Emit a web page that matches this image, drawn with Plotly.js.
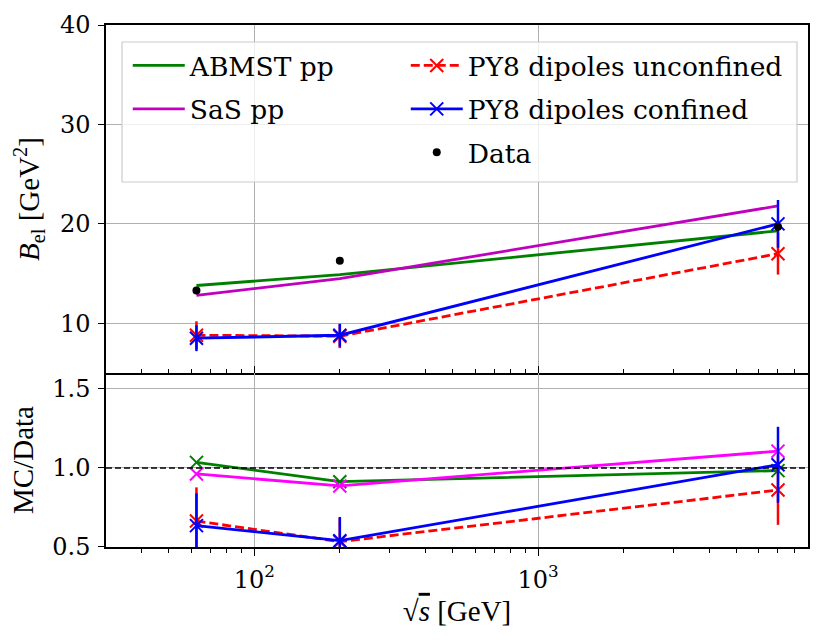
<!DOCTYPE html>
<html>
<head>
<meta charset="utf-8">
<script src="https://cdn.plot.ly/plotly-3.0.1.min.js"></script>
<style>
  html, body { margin: 0; padding: 0; background: #fff; }
  #chart { width: 830px; height: 644px; }
</style>
</head>
<body>
<div id="chart"></div>
<script>
  // Elastic slope B_el vs sqrt(s), with MC/Data ratio below.
  // Values.

  const sqrtS = [62.5, 200, 7000];

  const dataB = [13.3, 16.3, 19.7];
  const dataErr = [0.3, 0.3, 0.3];

  const abmstB = [13.8, 14.9, 19.3];
  const sasB = [12.8, 14.5, 21.8];

  const unconfB = [8.8, 8.7, 17.0];
  const unconfErr = [1.4, 1.2, 2.1];
  const confB = [8.5, 8.8, 20.0];
  const confErr = [1.3, 1.15, 2.4];

  const ratioAbmst = [1.035, 0.913, 0.983];
  const ratioSas = [0.962, 0.886, 1.106];
  const ratioUnconf = [0.664, 0.534, 0.86];
  const ratioUnconfErr = [0.213, 0.15, 0.22];
  const ratioConf = [0.635, 0.54, 1.02];
  const ratioConfErr = [0.205, 0.15, 0.24];

  const xMajor = [100, 1000];
  const xMajorText = ["10<sup>2</sup>", "10<sup>3</sup>"];
  const xMinor = [40, 50, 60, 70, 80, 90, 200, 300, 400, 500, 600, 700, 800, 900,
                  2000, 3000, 4000, 5000, 6000, 7000, 8000, 9000];
  const yTopTicks = [10, 20, 30, 40];
  const yRatioTicks = [0.5, 1.0, 1.5];
  const yRatioText = ["0.5", "1.0", "1.5"];

  // Titles take Liberation Serif; tick labels and legend entries only came
  // out serif with DejaVu Serif in this renderer.
  const TITLE_FONT = "Liberation Serif";
  const TEXT_FONT = "DejaVu Serif";
  const GREEN = "#008000";
  const PURPLE = "#bf00bf";
  const MAGENTA = "#ff00ff";
  const RED = "#ff0000";
  const BLUE = "#0000ff";
  const GRID = "#b0b0b0";
  const LW = 2.8;
  const DASH = "9px,4px";

  function xMarker(color) {
    return { symbol: "x-thin", size: 13, color: color, line: { color: color, width: 2 } };
  }

  function errBar(values, color) {
    return { type: "data", array: values, visible: true, color: color, thickness: 2.5, width: 0 };
  }

  function tickFont() {
    return { family: TEXT_FONT, size: 24, color: "black" };
  }

  function titleFont() {
    return { family: TITLE_FONT, size: 29, color: "black" };
  }

  const traces = [
    // --- top panel ---
    {
      x: sqrtS, y: abmstB, name: "ABMST pp", legend: "legend", legendgroup: "g1",
      type: "scatter", mode: "lines", line: { color: GREEN, width: LW },
      xaxis: "x", yaxis: "y",
    },
    {
      x: sqrtS, y: sasB, name: "SaS pp", legend: "legend", legendgroup: "g2",
      type: "scatter", mode: "lines", line: { color: PURPLE, width: LW },
      xaxis: "x", yaxis: "y",
    },
    {
      x: sqrtS, y: unconfB, name: "PY8 dipoles unconfined", legend: "legend2", legendgroup: "g3",
      type: "scatter", mode: "lines+markers",
      line: { color: RED, width: LW, dash: DASH }, marker: xMarker(RED),
      error_y: errBar(unconfErr, RED),
      xaxis: "x", yaxis: "y",
    },
    {
      x: sqrtS, y: confB, name: "PY8 dipoles confined", legend: "legend2", legendgroup: "g4",
      type: "scatter", mode: "lines+markers",
      line: { color: BLUE, width: LW }, marker: xMarker(BLUE),
      error_y: errBar(confErr, BLUE),
      xaxis: "x", yaxis: "y",
    },
    {
      x: sqrtS, y: dataB, name: "Data", legend: "legend2", legendgroup: "g5",
      type: "scatter", mode: "markers",
      marker: { color: "black", size: 8 },
      error_y: errBar(dataErr, "black"),
      xaxis: "x", yaxis: "y",
    },
    // --- ratio panel ---
    {
      x: sqrtS, y: ratioAbmst, showlegend: false,
      type: "scatter", mode: "lines+markers",
      line: { color: GREEN, width: LW }, marker: xMarker(GREEN),
      xaxis: "x2", yaxis: "y2",
    },
    {
      x: sqrtS, y: ratioSas, showlegend: false,
      type: "scatter", mode: "lines+markers",
      line: { color: MAGENTA, width: LW }, marker: xMarker(MAGENTA),
      xaxis: "x2", yaxis: "y2",
    },
    {
      x: sqrtS, y: ratioUnconf, showlegend: false,
      type: "scatter", mode: "lines+markers",
      line: { color: RED, width: LW, dash: DASH }, marker: xMarker(RED),
      error_y: errBar(ratioUnconfErr, RED),
      xaxis: "x2", yaxis: "y2",
    },
    {
      x: sqrtS, y: ratioConf, showlegend: false,
      type: "scatter", mode: "lines+markers",
      line: { color: BLUE, width: LW }, marker: xMarker(BLUE),
      error_y: errBar(ratioConfErr, BLUE),
      xaxis: "x2", yaxis: "y2",
    },
  ];

  const X_RANGE = [Math.log10(30), Math.log10(8930)];

  const LEGEND_BASE = {
    orientation: "v", traceorder: "grouped", tracegroupgap: 6, itemwidth: 52,
    y: 0.968, yanchor: "top", xanchor: "left",
    bgcolor: "rgba(0,0,0,0)", borderwidth: 0,
    font: { family: TEXT_FONT, size: 26.5, color: "black" },
  };

  const layout = {
    width: 830, height: 644,
    margin: { l: 106, r: 22, t: 25, b: 97 },
    paper_bgcolor: "white", plot_bgcolor: "white",
    font: { family: TEXT_FONT, size: 24, color: "black" },
    showlegend: true,
    legend: Object.assign({}, LEGEND_BASE, { x: 0.031 }),
    legend2: Object.assign({}, LEGEND_BASE, { x: 0.427 }),
    xaxis: {
      type: "log", range: X_RANGE, domain: [0, 1], anchor: "y", matches: "x2",
      showline: true, linecolor: "black", linewidth: 1.5, mirror: true,
      gridcolor: GRID, zeroline: false,
      tickmode: "array", tickvals: xMajor, ticktext: xMajorText,
      showticklabels: false, ticks: "inside", ticklen: 7, tickcolor: "black", tickwidth: 1.2,
      minor: { tickmode: "array", tickvals: xMinor, ticks: "inside", ticklen: 4, tickcolor: "black", showgrid: false },
    },
    yaxis: {
      domain: [0.3333, 1], range: [5, 40], anchor: "x",
      showline: true, linecolor: "black", linewidth: 1.5, mirror: true,
      gridcolor: GRID, zeroline: false,
      tickmode: "array", tickvals: yTopTicks,
      ticks: "outside", ticklen: 6, tickcolor: "black", tickwidth: 1.2, ticklabelstandoff: 3,
      tickfont: tickFont(),
      title: {
        text: "<i>B</i><sub>el</sub> [GeV<sup>2</sup>]",
        font: titleFont(), standoff: 12,
      },
    },
    xaxis2: {
      type: "log", range: X_RANGE, domain: [0, 1], anchor: "y2",
      showline: true, linecolor: "black", linewidth: 1.5, mirror: false,
      gridcolor: GRID, zeroline: false,
      tickmode: "array", tickvals: xMajor, ticktext: xMajorText,
      ticks: "outside", ticklen: 7, tickcolor: "black", tickwidth: 1.2, ticklabelstandoff: 3,
      tickfont: tickFont(),
      minor: { tickmode: "array", tickvals: xMinor, ticks: "outside", ticklen: 4, tickcolor: "black", showgrid: false },
      title: {
        text: "\u221A<span style='text-decoration:overline'><i>s</i></span> [GeV]",
        font: titleFont(), standoff: 8,
      },
    },
    yaxis2: {
      domain: [0, 0.3333], range: [0.5, 1.6], anchor: "x2",
      showline: true, linecolor: "black", linewidth: 1.5, mirror: true,
      gridcolor: GRID, zeroline: false,
      tickmode: "array", tickvals: yRatioTicks, ticktext: yRatioText,
      ticks: "outside", ticklen: 6, tickcolor: "black", tickwidth: 1.2, ticklabelstandoff: 3,
      tickfont: tickFont(),
      title: {
        text: "MC/Data",
        font: titleFont(), standoff: 10,
      },
    },
    shapes: [
      // legend frame, shared by the two legend columns
      {
        type: "rect", xref: "paper", yref: "paper", layer: "above",
        x0: 0.0228, x1: 0.9843, y0: 0.6992, y1: 0.9674,
        fillcolor: "rgba(255,255,255,0.8)", line: { color: "#cccccc", width: 1.2 },
      },
      {
        type: "line", xref: "x2 domain", x0: 0, x1: 1, yref: "y2", y0: 1, y1: 1,
        line: { color: "black", width: 1.5, dash: "6px,3px" },
      },
    ],
  };

  Plotly.newPlot("chart", traces, layout, { displayModeBar: false, responsive: false });
</script>
</body>
</html>
